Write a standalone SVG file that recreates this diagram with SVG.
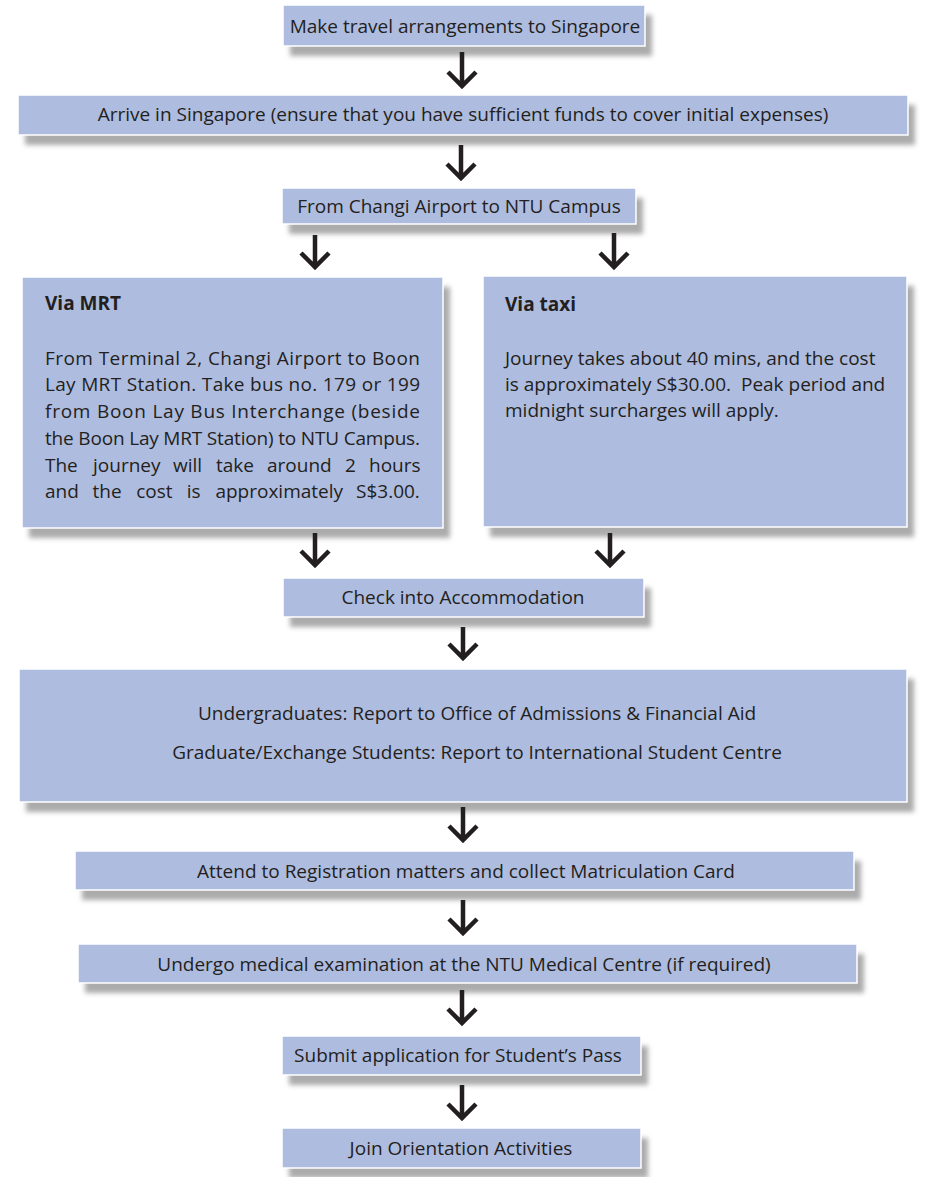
<svg xmlns="http://www.w3.org/2000/svg" width="930" height="1177" viewBox="0 0 930 1177">
<defs>
<filter id="blur" x="-10%" y="-30%" width="120%" height="160%"><feGaussianBlur stdDeviation="2.5"/></filter>
</defs>
<style>
.sh{fill:#ababab;filter:url(#blur)}
.bx{fill:#aebcdf;stroke:#ffffff;stroke-width:1.5}
text{font-family:"Open Sans","Liberation Sans",sans-serif;font-size:19px;fill:#231f20}
.c{text-anchor:middle}
.b{font-weight:bold}
.ar{fill:none;stroke:#231f20;stroke-width:4.5;stroke-linejoin:miter}
</style>
<rect width="930" height="1177" fill="#ffffff"/>
<g id="n1">
<rect class="sh" x="290" y="15" width="362" height="41"/>
<rect class="bx" x="283" y="5" width="362" height="41"/>
<text class="c" x="465" y="33">Make travel arrangements to Singapore</text>
</g>
<g id="n2">
<rect class="sh" x="25" y="105" width="890" height="40"/>
<rect class="bx" x="18" y="95" width="890" height="40"/>
<text class="c" x="463" y="121">Arrive in Singapore (ensure that you have sufficient funds to cover initial expenses)</text>
</g>
<g id="n3">
<rect class="sh" x="289" y="198" width="354" height="36"/>
<rect class="bx" x="282" y="188" width="354" height="36"/>
<text class="c" x="459" y="213">From Changi Airport to NTU Campus</text>
</g>
<g id="n4">
<rect class="sh" x="29" y="287" width="421" height="251"/>
<rect class="bx" x="22" y="277" width="421" height="251"/>
<text class="b" x="45" y="310">Via MRT</text>
<text x="45" y="365" textLength="375" lengthAdjust="spacing">From Terminal 2, Changi Airport to Boon</text>
<text x="45" y="391" textLength="375" lengthAdjust="spacing">Lay MRT Station. Take bus no. 179 or 199</text>
<text x="45" y="418" textLength="375" lengthAdjust="spacing">from Boon Lay Bus Interchange (beside</text>
<text x="45" y="445" textLength="375" lengthAdjust="spacing">the Boon Lay MRT Station) to NTU Campus.</text>
<text y="472"><tspan x="45">The</tspan><tspan x="93">journey</tspan><tspan x="173">will</tspan><tspan x="216">take</tspan><tspan x="267">around</tspan><tspan x="345">2</tspan><tspan x="369">hours</tspan></text>
<text y="498"><tspan x="45">and</tspan><tspan x="92.6">the</tspan><tspan x="136.2">cost</tspan><tspan x="186.8">is</tspan><tspan x="215.4">approximately</tspan><tspan x="356">S$3.00.</tspan></text>
</g>
<g id="n5">
<rect class="sh" x="490" y="286" width="424" height="251"/>
<rect class="bx" x="483" y="276" width="424" height="251"/>
<text class="b" x="505" y="311">Via taxi</text>
<text x="505" y="365">Journey takes about 40 mins, and the cost</text>
<text x="505" y="391" xml:space="preserve">is approximately S$30.00.  Peak period and</text>
<text x="505" y="417">midnight surcharges will apply.</text>
</g>
<g id="n6">
<rect class="sh" x="290" y="588" width="361" height="39"/>
<rect class="bx" x="283" y="578" width="361" height="39"/>
<text class="c" x="463" y="604">Check into Accommodation</text>
</g>
<g id="n7">
<rect class="sh" x="26" y="679" width="888" height="133"/>
<rect class="bx" x="19" y="669" width="888" height="133"/>
<text class="c" x="477" y="720">Undergraduates: Report to Office of Admissions &amp; Financial Aid</text>
<text class="c" x="477" y="759">Graduate/Exchange Students: Report to International Student Centre</text>
</g>
<g id="n8">
<rect class="sh" x="82" y="861" width="779" height="39"/>
<rect class="bx" x="75" y="851" width="779" height="39"/>
<text class="c" x="466" y="878">Attend to Registration matters and collect Matriculation Card</text>
</g>
<g id="n9">
<rect class="sh" x="85" y="954" width="779" height="39"/>
<rect class="bx" x="78" y="944" width="779" height="39"/>
<text class="c" x="464" y="971">Undergo medical examination at the NTU Medical Centre (if required)</text>
</g>
<g id="n10">
<rect class="sh" x="289" y="1046" width="359" height="39"/>
<rect class="bx" x="282" y="1036" width="359" height="39"/>
<text class="c" x="458" y="1062">Submit application for Student’s Pass</text>
</g>
<g id="n11">
<rect class="sh" x="289" y="1138" width="359" height="40"/>
<rect class="bx" x="282" y="1128" width="359" height="40"/>
<text class="c" x="461" y="1155">Join Orientation Activities</text>
</g>
<g id="connectors">
<path class="ar" d="M462 52V86M448 72L462 86L476 72"/>
<path class="ar" d="M461 145V178M447 164L461 178L475 164"/>
<path class="ar" d="M315 235V267M301 253L315 267L329 253"/>
<path class="ar" d="M614 233V267M600 253L614 267L628 253"/>
<path class="ar" d="M315 533V565M301 551L315 565L329 551"/>
<path class="ar" d="M610 533V565M596 551L610 565L624 551"/>
<path class="ar" d="M463 627V658M449 644L463 658L477 644"/>
<path class="ar" d="M463 807V840M449 826L463 840L477 826"/>
<path class="ar" d="M463 900V933M449 919L463 933L477 919"/>
<path class="ar" d="M462 990V1023M448 1009L462 1023L476 1009"/>
<path class="ar" d="M462 1085V1118M448 1104L462 1118L476 1104"/>
</g>
</svg>
